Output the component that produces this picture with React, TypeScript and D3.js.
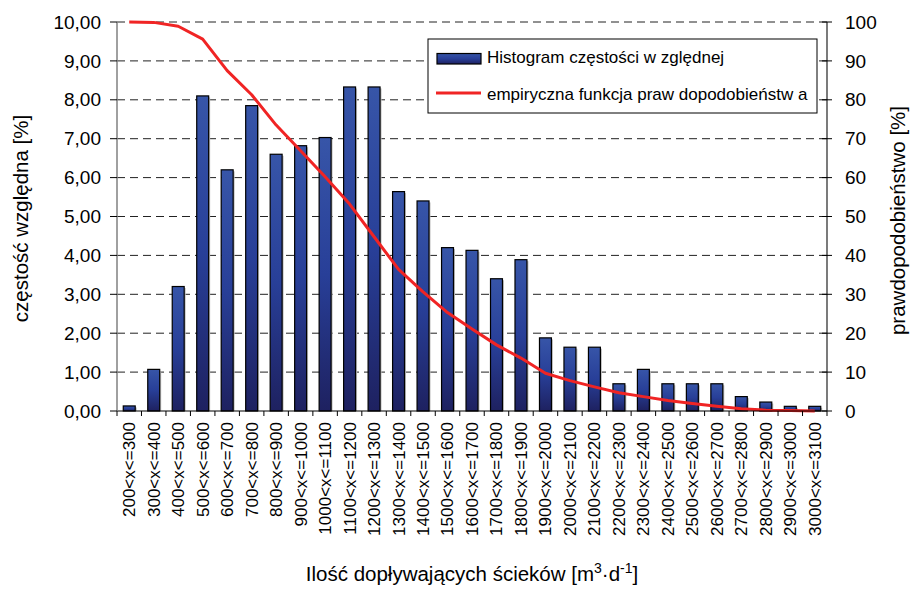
import { scaleBand, scaleLinear, line, format } from 'd3'

// histogram classes of inflow [m3/d]
const categories = [
  '200<x<=300', '300<x<=400', '400<x<=500', '500<x<=600', '600<x<=700',
  '700<x<=800', '800<x<=900', '900<x<=1000', '1000<x<=1100', '1100<x<=1200',
  '1200<x<=1300', '1300<x<=1400', '1400<x<=1500', '1500<x<=1600', '1600<x<=1700',
  '1700<x<=1800', '1800<x<=1900', '1900<x<=2000', '2000<x<=2100', '2100<x<=2200',
  '2200<x<=2300', '2300<x<=2400', '2400<x<=2500', '2500<x<=2600', '2600<x<=2700',
  '2700<x<=2800', '2800<x<=2900', '2900<x<=3000', '3000<x<=3100',
]

// relative frequency [%]
const frequency = [
  0.13, 1.07, 3.2, 8.1, 6.2, 7.85, 6.6, 6.82, 7.03, 8.33,
  8.33, 5.64, 5.4, 4.2, 4.13, 3.4, 3.89, 1.88, 1.64, 1.64,
  0.7, 1.07, 0.7, 0.7, 0.7, 0.37, 0.23, 0.12, 0.12,
]

// empirical exceedance probability [%]
const probability = [
  100, 99.9, 98.9, 95.6, 87.5, 81.3, 73.5, 66.9, 60.2, 53.2,
  44.8, 36.4, 30.6, 25.3, 21.1, 17.0, 13.6, 9.7, 7.8, 6.2,
  4.7, 3.7, 2.7, 1.9, 1.2, 0.6, 0.2, 0.1, 0.0,
]

const leftTicks = [0, 1, 2, 3, 4, 5, 6, 7, 8, 9, 10]
const rightTicks = [0, 10, 20, 30, 40, 50, 60, 70, 80, 90, 100]

const barLabel = 'Histogram częstości w zględnej'
const lineLabel = 'empiryczna funkcja praw dopodobieństw a'

const width = 912
const height = 592
const margin = { top: 22, right: 85, bottom: 181, left: 117 }
const innerWidth = width - margin.left - margin.right
const innerHeight = height - margin.top - margin.bottom
const font = '"Liberation Sans", Arial, sans-serif'

const App = () => {
  const xScale = scaleBand<string>().domain(categories).range([0, innerWidth])
  const yLeft = scaleLinear().domain([0, 10]).range([innerHeight, 0])
  const yRight = scaleLinear().domain([0, 100]).range([innerHeight, 0])

  const barWidth = xScale.bandwidth() / 2.05
  const fmt = (v: number) => format('.2f')(v).replace('.', ',')

  const probLine = line<number>()
    .x((_, i) => (xScale(categories[i]) as number) + xScale.bandwidth() / 2)
    .y(d => yRight(d))

  return (
    <svg width={width} height={height} style={{ position: 'absolute', left: 0, top: 0, background: '#fff' }} fontFamily={font}>
      <defs>
        <linearGradient id="barFill" x1="0" y1="0" x2="0" y2="1">
          <stop offset="0%" stopColor="#3755a8" />
          <stop offset="50%" stopColor="#283f98" />
          <stop offset="100%" stopColor="#1e2160" />
        </linearGradient>
      </defs>
      <g transform={`translate(${margin.left},${margin.top})`}>
        {/* dashed gridlines */}
        {leftTicks.filter(t => t > 0).map(t => (
          <line key={t} x1={0} x2={innerWidth} y1={yLeft(t)} y2={yLeft(t)}
            stroke="#222" strokeWidth={1} strokeDasharray="8,5" />
        ))}

        {/* bars */}
        {frequency.map((d, i) => {
          const x = (xScale(categories[i]) as number) + (xScale.bandwidth() - barWidth) / 2
          const y = yLeft(d)
          return (
            <g key={categories[i]}>
              <rect x={x + 1.5} y={y + 1.5} width={barWidth} height={innerHeight - y - 1.5} fill="#bdbdbd" />
              <rect x={x} y={y} width={barWidth} height={innerHeight - y}
                fill="url(#barFill)" stroke="#000" strokeWidth={1.2} />
            </g>
          )
        })}

        {/* probability line */}
        <path d={probLine(probability) as string} fill="none" stroke="#f02424" strokeWidth={3} strokeLinejoin="round" />

        {/* x axis */}
        <line x1={0} x2={innerWidth} y1={innerHeight} y2={innerHeight} stroke="#000" strokeWidth={1.2} />
        {categories.map(c => (
          <line key={'t' + c} x1={xScale(c) as number} x2={xScale(c) as number}
            y1={innerHeight} y2={innerHeight + 5} stroke="#000" />
        ))}
        <line x1={innerWidth} x2={innerWidth} y1={innerHeight} y2={innerHeight + 5} stroke="#000" />
        {categories.map(c => {
          const cx = (xScale(c) as number) + xScale.bandwidth() / 2
          return (
            <text key={'l' + c} transform={`translate(${cx},${innerHeight + 11}) rotate(-90)`}
              textAnchor="end" dy="0.35em" fontSize={17} fill="#000">{c}</text>
          )
        })}

        {/* left axis */}
        <line x1={0} x2={0} y1={0} y2={innerHeight} stroke="#808080" strokeWidth={1.5} />
        {leftTicks.map(t => (
          <g key={'yl' + t} transform={`translate(0,${yLeft(t)})`}>
            <line x1={-7} x2={0} stroke="#000" />
            <text x={-16} dy="0.35em" textAnchor="end" fontSize={19} fill="#000">{fmt(t)}</text>
          </g>
        ))}

        {/* right axis */}
        <line x1={innerWidth} x2={innerWidth} y1={0} y2={innerHeight} stroke="#222" strokeWidth={1.2} />
        {rightTicks.map(t => (
          <g key={'yr' + t} transform={`translate(${innerWidth},${yRight(t)})`}>
            <line x1={-5} x2={5} stroke="#000" />
            <text x={18} dy="0.35em" textAnchor="start" fontSize={19} fill="#000">{t}</text>
          </g>
        ))}

        {/* legend */}
        <g transform="translate(311,17)">
          <rect x={0} y={0} width={389} height={74} fill="#fff" stroke="#000" strokeWidth={1} />
          <rect x={9} y={14.5} width={44} height={10.5} fill="url(#barFill)" stroke="#000" strokeWidth={1.2} />
          <text x={59} y={24} fontSize={17} fill="#000">{barLabel}</text>
          <line x1={8} x2={53} y1={54} y2={54} stroke="#f02424" strokeWidth={3} />
          <text x={59} y={61} fontSize={17} fill="#000">{lineLabel}</text>
        </g>
      </g>

      {/* axis titles */}
      <text transform={`translate(21,${margin.top + innerHeight / 2 + 2}) rotate(-90)`} textAnchor="middle"
        dy="0.35em" fontSize={20.5} fill="#000">częstość względna [%]</text>
      <text transform={`translate(898,${margin.top + innerHeight / 2 + 4}) rotate(-90)`} textAnchor="middle"
        dy="0.35em" fontSize={20.5} fill="#000">prawdopodobieństwo [%]</text>
      <text x={margin.left + innerWidth / 2} y={581} textAnchor="middle" fontSize={20.5} fill="#000">
        Ilość dopływających ścieków [m<tspan dy={-8} fontSize={14}>3</tspan><tspan dy={8}>·d</tspan><tspan dy={-8} fontSize={14}>-1</tspan><tspan dy={8}>]</tspan>
      </text>
    </svg>
  )
}

export default App
